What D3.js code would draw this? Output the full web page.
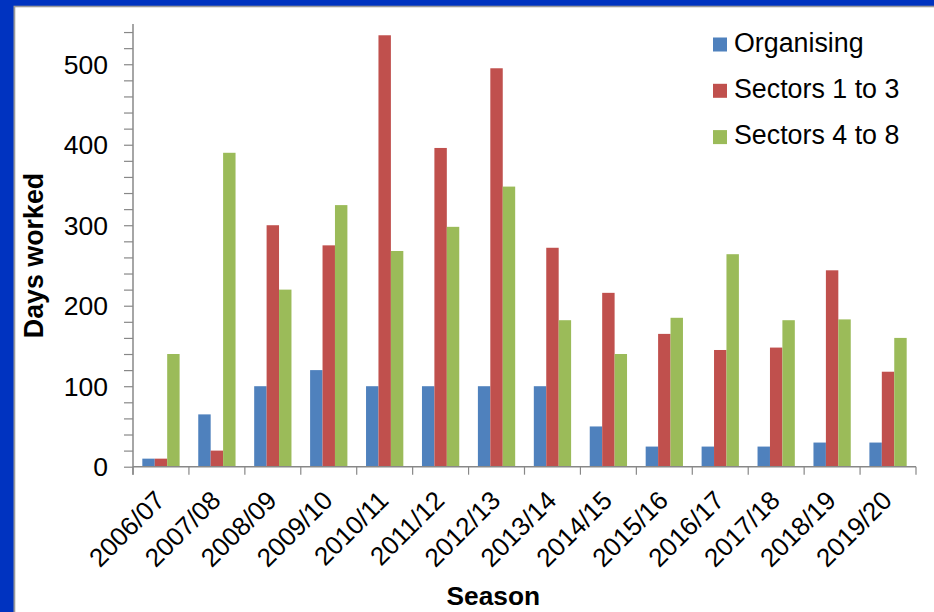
<!DOCTYPE html>
<html>
<head>
<meta charset="utf-8">
<script src="https://cdn.jsdelivr.net/npm/d3@7"></script>
<style>
  html, body { margin: 0; padding: 0; background: #0033c0; }
  svg { display: block; }
  text { font-family: "Liberation Sans", Arial, sans-serif; fill: #000; }
</style>
</head>
<body>
<svg id="chart" width="934" height="612"></svg>
<script>
// Seasons and days worked per group
const seasons = ["2006/07", "2007/08", "2008/09", "2009/10", "2010/11", "2011/12", "2012/13",
                 "2013/14", "2014/15", "2015/16", "2016/17", "2017/18", "2018/19", "2019/20"];
const seriesNames = ["Organising", "Sectors 1 to 3", "Sectors 4 to 8"];
const organising = [10, 65, 100, 120, 100, 100, 100, 100, 50, 25, 25, 25, 30, 30];
const sectors1to3 = [10, 20, 300, 275, 536, 396, 495, 272, 216, 165, 145, 148, 244, 118];
const sectors4to8 = [140, 390, 220, 325, 268, 298, 348, 182, 140, 185, 264, 182, 183, 160];
const seriesColors = ["#4f81bd", "#c0504d", "#9bbb59"];
const yMajorTicks = [0, 100, 200, 300, 400, 500];

const seriesValues = [organising, sectors1to3, sectors4to8];
const rows = seasons.map((s, i) => ({ season: s, values: seriesValues.map(v => v[i]) }));

const svg = d3.select("#chart");
const W = 934, H = 612;

// Page frame: blue band on top and left, thin grey rule, white panel
svg.append("rect").attr("width", W).attr("height", H).attr("fill", "#0033c0");
svg.append("rect").attr("x", 13.5).attr("y", 5.7).attr("width", W).attr("height", H).attr("fill", "#9a9a9a");
svg.append("rect").attr("x", 15.3).attr("y", 7.3).attr("width", W).attr("height", H).attr("fill", "#ffffff");

const plot = { left: 133, right: 916, top: 24, bottom: 466.7 };

const x = d3.scaleBand().domain(seasons).range([plot.left, plot.right]).padding(0);
const xs = d3.scaleBand().domain(d3.range(3)).range([0, x.bandwidth()])
  .paddingInner(0).paddingOuter(0.75);
const y = d3.scaleLinear().domain([0, 550]).range([plot.bottom, plot.top]);

// Bars
const groups = svg.append("g").selectAll("g").data(rows).join("g")
  .attr("transform", d => `translate(${x(d.season)},0)`);
groups.selectAll("rect").data(d => d.values).join("rect")
  .attr("x", (d, i) => xs(i))
  .attr("width", xs.bandwidth())
  .attr("y", d => y(d))
  .attr("height", d => y(0) - y(d))
  .attr("fill", (d, i) => seriesColors[i]);

const axisColor = "#888888";

// Y axis: minor ticks every 20, labels every 100
const yAxis = svg.append("g").attr("transform", `translate(${plot.left},0)`)
  .call(d3.axisLeft(y).tickValues(d3.range(0, 541, 20)).tickSize(9).tickFormat(() => ""));
yAxis.select(".domain").remove();
yAxis.selectAll(".tick line").attr("stroke", axisColor).attr("stroke-width", 1.2);
svg.append("line").attr("x1", plot.left).attr("x2", plot.left)
  .attr("y1", plot.top).attr("y2", plot.bottom + 8)
  .attr("stroke", axisColor).attr("stroke-width", 1.5);

svg.append("g").selectAll("text").data(yMajorTicks).join("text")
  .attr("x", 108).attr("y", d => y(d)).attr("dy", "0.36em")
  .attr("text-anchor", "end").attr("font-size", 26.5).text(d => d);

// X axis line with boundary ticks between seasons
svg.append("line").attr("x1", plot.left).attr("x2", plot.right)
  .attr("y1", plot.bottom).attr("y2", plot.bottom)
  .attr("stroke", axisColor).attr("stroke-width", 1.5);
const boundaries = seasons.map(s => x(s)).concat([plot.right]);
svg.append("g").selectAll("line").data(boundaries).join("line")
  .attr("x1", d => d).attr("x2", d => d)
  .attr("y1", plot.bottom).attr("y2", plot.bottom + 8)
  .attr("stroke", axisColor).attr("stroke-width", 1.2);

// Rotated season labels
svg.append("g").selectAll("text").data(seasons).join("text")
  .attr("transform", d => `translate(${x(d) + x.bandwidth() / 2 + 5.4},${plot.bottom + 35.3}) rotate(-45)`)
  .attr("text-anchor", "end").attr("font-size", 26).text(d => d);

// Axis titles
svg.append("text").attr("transform", "translate(43,255.5) rotate(-90)")
  .attr("text-anchor", "middle").attr("font-size", 26.8).attr("font-weight", "bold").text("Days worked");
svg.append("text").attr("x", 493.3).attr("y", 605)
  .attr("text-anchor", "middle").attr("font-size", 26.3).attr("font-weight", "bold").text("Season");

// Legend
const legend = svg.append("g").selectAll("g").data(seriesNames).join("g")
  .attr("transform", (d, i) => `translate(713,${37.5 + i * 46.3})`);
legend.append("rect").attr("width", 14).attr("height", 14).attr("fill", (d, i) => seriesColors[i]);
legend.append("text").attr("x", 21).attr("y", 14).attr("font-size", 26.8).text(d => d);
</script>
</body>
</html>
